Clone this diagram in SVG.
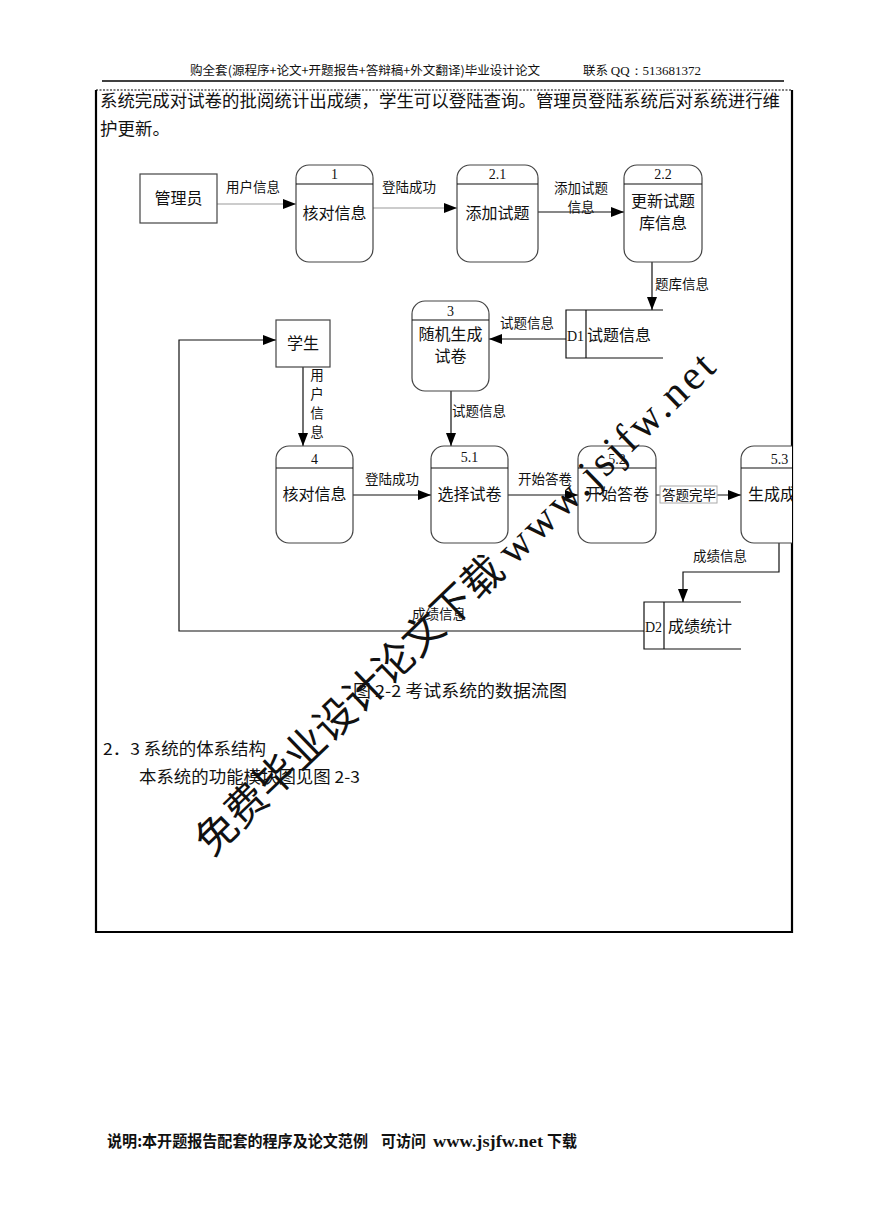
<svg xmlns="http://www.w3.org/2000/svg" width="869" height="1228" viewBox="0 0 869 1228">
<defs>
<style>
.cn{font-family:"Noto Sans CJK SC","Noto Sans",sans-serif;fill:#111}
.num{font-family:"Liberation Serif",serif;fill:#111}
.box{fill:#fff;stroke:#444;stroke-width:1.2}
.ln{fill:none;stroke:#111;stroke-width:1.2}
.lg{fill:none;stroke:#999;stroke-width:1.2}
.lbl{font-size:13.5px}
.nt{font-size:16px}
.frame{fill:none;stroke:#000;stroke-width:2.2}
.ft{font-size:16px;font-weight:bold}
</style>
<marker id="arr" markerUnits="userSpaceOnUse" markerWidth="13" markerHeight="10" refX="13" refY="5" orient="auto">
<path d="M0,0 L13,5 L0,10 z" fill="#000"/>
</marker>
<clipPath id="clipR"><rect x="0" y="0" width="792" height="1228"/></clipPath>
</defs>
<rect width="869" height="1228" fill="#fff"/>

<g id="page">
<text class="cn" x="190" y="75" font-size="12.5" textLength="350" lengthAdjust="spacingAndGlyphs">购全套(源程序+论文+开题报告+答辩稿+外文翻译)毕业设计论文</text>
<text class="cn" x="583" y="75" font-size="12.5">联系 <tspan class="num" font-size="13">QQ：513681372</tspan></text>
<line x1="102" y1="81" x2="784" y2="81" stroke="#000" stroke-width="1.3"/>
<line x1="96" y1="90" x2="792" y2="90" stroke="#000" stroke-width="1" stroke-dasharray="2,1.5"/>
<path class="frame" d="M96,90 V932 H792 V90"/>
<text class="cn" x="100" y="107" font-size="17.5" textLength="680" lengthAdjust="spacingAndGlyphs">系统完成对试卷的批阅统计出成绩，学生可以登陆查询。管理员登陆系统后对系统进行维</text>
<text class="cn" x="100" y="135" font-size="17.5" textLength="70" lengthAdjust="spacingAndGlyphs">护更新。</text>
</g>

<g id="connectors">
<line class="lg" x1="217" y1="204" x2="296" y2="204" marker-end="url(#arr)"/>
<text class="cn lbl" x="226" y="192">用户信息</text>
<line class="lg" x1="373" y1="208" x2="457" y2="208" marker-end="url(#arr)"/>
<text class="cn lbl" x="382" y="192">登陆成功</text>
<line class="ln" x1="538" y1="212" x2="624" y2="212" marker-end="url(#arr)"/>
<text class="cn lbl" x="581" y="193" text-anchor="middle">添加试题</text>
<text class="cn lbl" x="581" y="212" text-anchor="middle">信息</text>
<line class="ln" x1="652" y1="262" x2="652" y2="310" marker-end="url(#arr)"/>
<text class="cn lbl" x="655" y="289">题库信息</text>
<line class="ln" x1="566" y1="339" x2="489" y2="339" marker-end="url(#arr)"/>
<text class="cn lbl" x="500" y="328">试题信息</text>
<line class="ln" x1="451" y1="391" x2="451" y2="446" marker-end="url(#arr)"/>
<text class="cn lbl" x="452" y="416">试题信息</text>
<line class="ln" x1="303" y1="367" x2="303" y2="446" marker-end="url(#arr)"/>
<text class="cn lbl" x="317" y="380" text-anchor="middle">用</text>
<text class="cn lbl" x="317" y="399" text-anchor="middle">户</text>
<text class="cn lbl" x="317" y="418" text-anchor="middle">信</text>
<text class="cn lbl" x="317" y="437" text-anchor="middle">息</text>
<path class="ln" d="M644,631 H179 V340 H276" marker-end="url(#arr)"/>
<text class="cn lbl" x="412" y="619">成绩信息</text>
<line class="ln" x1="353" y1="495" x2="431" y2="495" marker-end="url(#arr)"/>
<text class="cn lbl" x="365" y="484">登陆成功</text>
<line class="ln" x1="508" y1="495" x2="578" y2="495" marker-end="url(#arr)"/>
<text class="cn lbl" x="518" y="484">开始答卷</text>
<line class="ln" x1="656" y1="495" x2="741" y2="495" marker-end="url(#arr)"/>
<rect x="660" y="486" width="57" height="17" fill="#fff" stroke="#aaa" stroke-width="1"/>
<text class="cn lbl" x="662" y="500">答题完毕</text>
<path class="ln" d="M779,543 V572 H683 V602" marker-end="url(#arr)"/>
<text class="cn lbl" x="693" y="561">成绩信息</text>
</g>

<g id="admin">
<rect class="box" x="140" y="174" width="77" height="49"/>
<text class="cn nt" x="178.5" y="204" text-anchor="middle">管理员</text>
</g>
<g id="p1">
<rect class="box" x="296" y="165" width="77" height="97" rx="13"/>
<line class="ln" x1="296" y1="184" x2="373" y2="184"/>
<text class="num" x="334.5" y="179" font-size="14" text-anchor="middle">1</text>
<text class="cn nt" x="334.5" y="219" text-anchor="middle">核对信息</text>
</g>
<g id="p21">
<rect class="box" x="457" y="165" width="81" height="97" rx="13"/>
<line class="ln" x1="457" y1="184" x2="538" y2="184"/>
<text class="num" x="497.5" y="179" font-size="14" text-anchor="middle">2.1</text>
<text class="cn nt" x="497.5" y="219" text-anchor="middle">添加试题</text>
</g>
<g id="p22">
<rect class="box" x="624" y="165" width="78" height="97" rx="13"/>
<line class="ln" x1="624" y1="184" x2="702" y2="184"/>
<text class="num" x="663" y="179" font-size="14" text-anchor="middle">2.2</text>
<text class="cn nt" x="663" y="207" text-anchor="middle">更新试题</text>
<text class="cn nt" x="663" y="229" text-anchor="middle">库信息</text>
</g>
<g id="d1">
<path class="ln" d="M663,310 H566 V358 H663 M586,310 V358" stroke="#444"/>
<text class="num" x="567" y="341" font-size="14">D1</text>
<text class="cn nt" x="587" y="341">试题信息</text>
</g>
<g id="p3">
<rect class="box" x="412" y="301" width="77" height="90" rx="13"/>
<line class="ln" x1="412" y1="320" x2="489" y2="320"/>
<text class="num" x="450.5" y="316" font-size="14" text-anchor="middle">3</text>
<text class="cn nt" x="450.5" y="340" text-anchor="middle">随机生成</text>
<text class="cn nt" x="450.5" y="362" text-anchor="middle">试卷</text>
</g>
<g id="student">
<rect class="box" x="276" y="320" width="54" height="47"/>
<text class="cn nt" x="303" y="349" text-anchor="middle">学生</text>
</g>
<g id="p4">
<rect class="box" x="276" y="446" width="77" height="97" rx="13"/>
<line class="ln" x1="276" y1="468" x2="353" y2="468"/>
<text class="num" x="314.5" y="464" font-size="14" text-anchor="middle">4</text>
<text class="cn nt" x="314.5" y="500" text-anchor="middle">核对信息</text>
</g>
<g id="p51">
<rect class="box" x="431" y="446" width="77" height="97" rx="13"/>
<line class="ln" x1="431" y1="468" x2="508" y2="468"/>
<text class="num" x="469.5" y="462" font-size="14" text-anchor="middle">5.1</text>
<text class="cn nt" x="469.5" y="500" text-anchor="middle">选择试卷</text>
</g>
<g id="p52">
<rect class="box" x="578" y="446" width="78" height="97" rx="13"/>
<line class="ln" x1="578" y1="468" x2="656" y2="468"/>
<text class="num" x="617" y="464" font-size="14" text-anchor="middle">5.2</text>
<text class="cn nt" x="617" y="500" text-anchor="middle">开始答卷</text>
</g>
<g id="p53" clip-path="url(#clipR)">
<rect class="box" x="741" y="446" width="77" height="97" rx="13"/>
<line class="ln" x1="741" y1="468" x2="818" y2="468"/>
<text class="num" x="779.5" y="464" font-size="14" text-anchor="middle">5.3</text>
<text class="cn nt" x="748" y="500">生成成绩</text>
</g>
<g id="d2">
<path class="ln" d="M741,602 H644 V649 H741 M664,602 V649" stroke="#444"/>
<text class="num" x="645" y="632" font-size="14">D2</text>
<text class="cn nt" x="668" y="632">成绩统计</text>
</g>

<g id="body">
<text class="cn" x="353" y="697" font-size="16.5" textLength="214" lengthAdjust="spacingAndGlyphs">图 2-2 考试系统的数据流图</text>
<text class="cn" x="103" y="755" font-size="16.5" textLength="163" lengthAdjust="spacingAndGlyphs">2．3 系统的体系结构</text>
<text class="cn" x="139" y="783" font-size="16.5" textLength="221" lengthAdjust="spacingAndGlyphs">本系统的功能模块图见图 2-3</text>
</g>

<g id="watermark">
<text class="cn" transform="translate(212,858) rotate(-44)" font-size="41"><tspan>免费毕业设计论文下载 </tspan><tspan font-family="Liberation Serif, serif" font-size="42" letter-spacing="3.5">www.jsjfw.net</tspan></text>
</g>

<g id="footer">
<text class="cn ft" x="107" y="1147" textLength="261" lengthAdjust="spacingAndGlyphs">说明:本开题报告配套的程序及论文范例</text>
<text class="cn ft" x="381" y="1147" textLength="45" lengthAdjust="spacingAndGlyphs">可访问</text>
<text class="num ft" x="433" y="1147" textLength="110" lengthAdjust="spacingAndGlyphs">www.jsjfw.net</text>
<text class="cn ft" x="547" y="1147" textLength="30" lengthAdjust="spacingAndGlyphs">下载</text>
</g>
</svg>
